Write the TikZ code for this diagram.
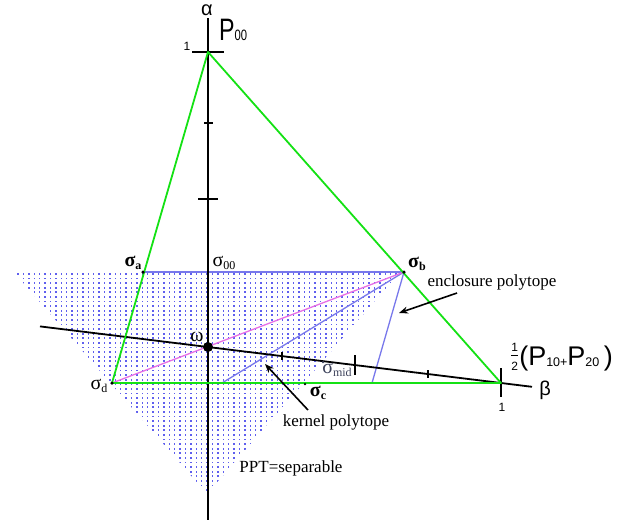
\documentclass[tikz,border=0pt]{standalone}
\usepackage{fontspec}
\setmainfont{Liberation Serif}
\newfontfamily\arial{Liberation Sans}
\usetikzlibrary{arrows.meta}
\definecolor{grn}{RGB}{20,225,20}
\definecolor{blu}{RGB}{120,120,235}
\definecolor{mag}{RGB}{230,110,230}
\definecolor{dotc}{RGB}{95,95,238}
\definecolor{midc}{RGB}{60,65,90}
\newcommand{\sgb}[1]{\textbf{σ}\raisebox{-0.3ex}{\fontsize{12}{12}\selectfont\textbf{#1}}}
\newcommand{\sgn}[1]{σ\raisebox{-0.3ex}{\fontsize{12}{12}\selectfont #1}}
\tikzset{
  axis/.style={line width=1.8pt, black},
  gline/.style={line width=1.8pt, grn},
  bline/.style={line width=1.3pt, blu},
  mline/.style={line width=1.3pt, mag},
  tick/.style={line width=1.5pt, black},
  lab/.style={inner sep=0pt, font=\fontsize{17}{17}\selectfont},
  slab/.style={inner sep=0pt, font=\fontsize{20}{20}\selectfont},
  alab/.style={inner sep=0pt, font=\arial\fontsize{12}{12}\selectfont},
  pt/.style={circle, fill=black, inner sep=0pt, minimum size=3.5pt},
  arr/.style={line width=1.6pt, black, -{Stealth[length=9pt,width=7pt]}}
}
\begin{document}
\begin{tikzpicture}[x=1pt,y=-1pt]
\useasboundingbox (0,0) rectangle (641,520);
% dotted region (PPT)
\begin{scope}
\clip (12,270) -- (402,270) -- (207,494) -- cycle;
\foreach \i in {0,...,72}{\foreach \j in {0,...,49}{
  \fill[dotc] ({12+5.4*\i},{273+4.6*\j}) rectangle ++(1.3,1.8);}}
\end{scope}
% coordinates
\coordinate (P00) at (208,52);
\coordinate (sa) at (143,272);
\coordinate (sb) at (404,272);
\coordinate (s00) at (208,272);
\coordinate (om) at (208,347);
\coordinate (sd) at (112,383);
\coordinate (B1) at (501,383);
\coordinate (kb) at (222,383);
\coordinate (eb) at (372,383);
\coordinate (sc) at (305,384);
\coordinate (smid) at (323,362);
\coordinate (atop) at (208,18);
\coordinate (abot) at (208,520);
\coordinate (bl) at (40,326.4);
\coordinate (br) at (532,386.8);
% blue and magenta
\draw[bline] (sa) -- (sb);
\draw[bline] (kb) -- (sb);
\draw[bline] (sb) -- (eb);
\draw[mline] (sd) -- (sb);
% axes
\draw[axis] (atop) -- (abot);
\draw[axis] (bl) -- (br);
% ticks on alpha axis
\draw[tick] (192,52) -- (224,52);
\draw[tick] (204,123) -- (213,123);
\draw[tick] (198,199) -- (218,199);
% ticks on beta axis
\draw[tick] (282,352) -- (282,360);
\draw[tick] (355,355) -- (355,375);
\draw[tick] (428,370) -- (428,378);
\draw[tick] (501,368) -- (501,397);
% green triangle
\draw[gline, line join=round] (P00) -- (sd) -- (B1) -- cycle;
% points
\node[pt] at (sa) {};
\node[pt] at (sb) {};
\node[pt] at (sd) {};
\node[pt, minimum size=2.5pt] at (sc) {};
\node[pt, minimum size=2.5pt, fill=midc] at (smid) {};
\node[circle, fill=black, inner sep=0pt, minimum size=10pt] (omd) at (om) {};
% labels
\node[inner sep=0pt, font=\arial\fontsize{20}{20}\selectfont] (alph) at (207,10) {α};
\node[inner sep=0pt, font=\arial\fontsize{20}{20}\selectfont] (bet) at (545,390) {β};
\node[alab] (one1) at (187,46) {1};
\node[alab] (one2) at (502,407) {1};
\node[inner sep=0pt, anchor=base west, font=\arial\fontsize{31}{31}\selectfont, xscale=0.75] (p00l) at (219,40) {P\raisebox{-0.05ex}{\fontsize{15}{15}\selectfont 00}};
\node[inner sep=0pt, anchor=base west, font=\arial\fontsize{27}{27}\selectfont] (pmix) at (510,365)
  {\raisebox{0.25ex}{$\frac{\hbox{\arial\fontsize{12}{12}\selectfont 1}}{\hbox{\arial\fontsize{12}{12}\selectfont 2}}$}(P\raisebox{-0.1ex}{\fontsize{12.5}{12.5}\selectfont 10+}P\raisebox{-0.1ex}{\fontsize{12.5}{12.5}\selectfont 20}\,)};
\node[slab] (lsa) at (133,263) {\sgb{a}};
\node[slab] (lsb) at (417,264) {\sgb{b}};
\node[slab] (lsc) at (318,393) {\sgb{c}};
\node[slab] (lsd) at (99,386) {\sgn{d}};
\node[slab] (ls00) at (224,263) {\sgn{00}};
\node[slab, text=midc] (lsmid) at (337,370) {\sgn{mid}};
\node[slab] (lom) at (197,337) {ω};
\node[lab] (enc) at (492,282) {enclosure polytope};
\node[lab] (ker) at (336,422) {kernel polytope};
\node[lab] (ppt) at (291,468) {PPT=separable};
% arrows
\coordinate (encA) at (457,293);
\coordinate (encB) at (399,313);
\coordinate (kerA) at (308,410);
\coordinate (kerB) at (265,364);
\draw[arr] (encA) -- (encB);
\draw[arr] (kerA) -- (kerB);
\end{tikzpicture}
\end{document}
